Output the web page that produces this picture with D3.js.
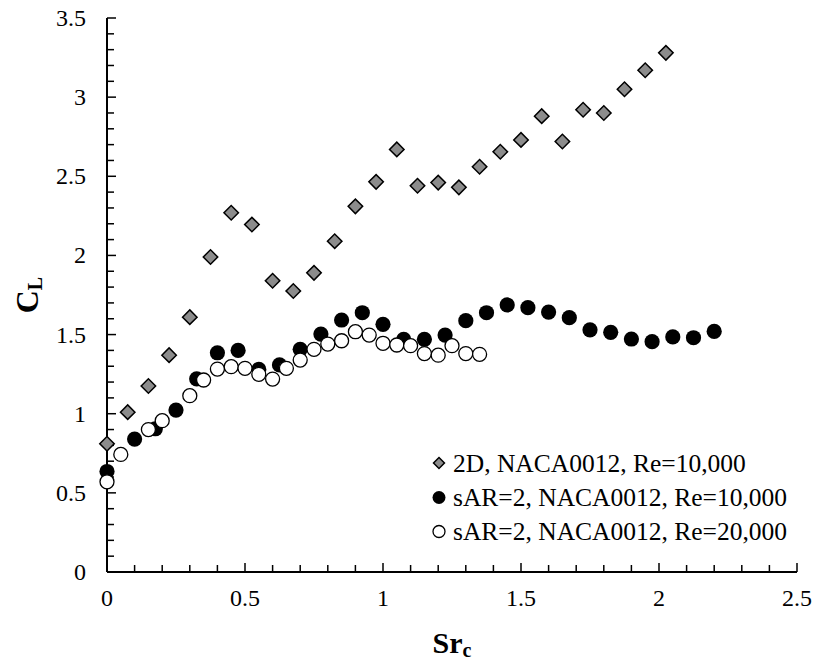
<!DOCTYPE html>
<html>
<head>
<meta charset="utf-8">
<script src="https://cdn.jsdelivr.net/npm/d3@7"></script>
</head>
<body style="margin:0">
<svg id="chart" width="819" height="664"></svg>
<script>
// Chart size (matches the window)
const width = 819;
const height = 664;
const serif = '"Liberation Serif"';

// touch the face once through a canvas so it is ready before the svg text is laid out
const ctx = document.createElement("canvas").getContext("2d");
ctx.font = `24px ${serif}`;
ctx.measureText("0.5 NACA0012 Sr");
ctx.font = `bold 30px ${serif}`;
ctx.measureText("Sr CL");

// 2D, NACA0012, Re=10,000
const sr2D = [0, 0.075, 0.15, 0.225, 0.3, 0.375, 0.45, 0.525, 0.6, 0.675, 0.75, 0.825, 0.9, 0.975,
              1.05, 1.125, 1.2, 1.275, 1.35, 1.425, 1.5, 1.575, 1.65, 1.725, 1.8, 1.875, 1.95, 2.025];
const cl2D = [0.81, 1.01, 1.175, 1.37, 1.61, 1.99, 2.27, 2.195, 1.84, 1.775, 1.89, 2.09, 2.31, 2.465,
              2.67, 2.44, 2.46, 2.43, 2.56, 2.655, 2.73, 2.88, 2.72, 2.92, 2.90, 3.05, 3.17, 3.28];

// sAR=2, NACA0012, Re=10,000
const srRe10k = [0, 0.1, 0.175, 0.25, 0.325, 0.4, 0.475, 0.55, 0.625, 0.7, 0.775, 0.85, 0.925, 1.0,
                 1.075, 1.15, 1.225, 1.3, 1.375, 1.45, 1.525, 1.6, 1.675, 1.75, 1.825, 1.9, 1.975,
                 2.05, 2.125, 2.2];
const clRe10k = [0.635, 0.84, 0.905, 1.023, 1.22, 1.385, 1.40, 1.28, 1.308, 1.407, 1.503, 1.592, 1.638, 1.565,
                 1.47, 1.47, 1.497, 1.588, 1.638, 1.687, 1.67, 1.642, 1.607, 1.53, 1.514, 1.472, 1.455,
                 1.485, 1.48, 1.52];

// sAR=2, NACA0012, Re=20,000
const srRe20k = [0, 0.05, 0.15, 0.2, 0.3, 0.35, 0.4, 0.45, 0.5, 0.55, 0.6, 0.65, 0.7, 0.75, 0.8,
                 0.85, 0.9, 0.95, 1.0, 1.05, 1.1, 1.15, 1.2, 1.25, 1.3, 1.35];
const clRe20k = [0.57, 0.743, 0.90, 0.956, 1.114, 1.213, 1.282, 1.297, 1.287, 1.249, 1.219, 1.287, 1.339,
                 1.407, 1.44, 1.461, 1.518, 1.497, 1.445, 1.434, 1.43, 1.38, 1.37, 1.43, 1.38, 1.375];

const legendLabels = ["2D, NACA0012, Re=10,000", "sAR=2, NACA0012, Re=10,000", "sAR=2, NACA0012, Re=20,000"];

const xMajor = [0, 0.5, 1, 1.5, 2, 2.5];
const yMajor = [0, 0.5, 1, 1.5, 2, 2.5, 3, 3.5];

const svg = d3.select("#chart");

// plot area edges
const x = d3.scaleLinear().domain([0, 2.5]).range([107, 797]);
const y = d3.scaleLinear().domain([0, 3.5]).range([572, 18]);

// minor ticks every 0.1
const xMinor = d3.range(0, 2.5001, 0.1);
const yMinor = d3.range(0, 3.5001, 0.1);
const isMajor = d => Math.abs(d * 2 - Math.round(d * 2)) < 1e-6;

svg.selectAll("line.xminor")
    .data(xMinor)
    .enter()
    .append("line")
    .attr("x1", d => x(d))
    .attr("x2", d => x(d))
    .attr("y1", y(0))
    .attr("y2", d => y(0) - (isMajor(d) ? 9 : 7))
    .attr("stroke", "#000")
    .attr("stroke-width", 1.5);

svg.selectAll("line.yminor")
    .data(yMinor)
    .enter()
    .append("line")
    .attr("y1", d => y(d))
    .attr("y2", d => y(d))
    .attr("x1", x(0))
    .attr("x2", d => x(0) + (isMajor(d) ? 9 : 7))
    .attr("stroke", "#000")
    .attr("stroke-width", 1.5);

// axis lines
svg.append("line")
    .attr("x1", x(0)).attr("x2", x(2.5))
    .attr("y1", y(0)).attr("y2", y(0))
    .attr("stroke", "#000").attr("stroke-width", 2);
svg.append("line")
    .attr("x1", x(0)).attr("x2", x(0))
    .attr("y1", y(0)).attr("y2", y(3.5))
    .attr("stroke", "#000").attr("stroke-width", 2);

// tick labels
svg.selectAll("text.xlab")
    .data(xMajor)
    .enter()
    .append("text")
    .attr("x", d => x(d))
    .attr("y", 606)
    .attr("text-anchor", "middle")
    .attr("font-size", 24)
    .style("font-family", serif)
    .text(d => d);

svg.selectAll("text.ylab")
    .data(yMajor)
    .enter()
    .append("text")
    .attr("x", 86)
    .attr("y", d => y(d) + 8)
    .attr("text-anchor", "end")
    .attr("font-size", 24)
    .style("font-family", serif)
    .text(d => d);

// axis titles
const xt = svg.append("text")
    .attr("x", x(1.25))
    .attr("y", 653)
    .attr("text-anchor", "middle")
    .attr("font-size", 30)
    .attr("font-weight", "bold")
    .style("font-family", serif);
xt.append("tspan").text("Sr");
xt.append("tspan").attr("font-size", 20).attr("dy", 4).text("c");

const yt = svg.append("text")
    .attr("transform", `translate(38,${y(1.75)}) rotate(-90)`)
    .attr("text-anchor", "middle")
    .attr("font-size", 32)
    .attr("font-weight", "bold")
    .style("font-family", serif);
yt.append("tspan").text("C");
yt.append("tspan").attr("font-size", 20).attr("dy", 4).text("L");

// data markers
const diamond = d3.symbol().type(d3.symbolSquare).size(105);

svg.selectAll("path.d2")
    .data(d3.zip(sr2D, cl2D))
    .enter()
    .append("path")
    .attr("class", "d2")
    .attr("d", diamond)
    .attr("transform", d => `translate(${x(d[0])},${y(d[1])}) rotate(45)`)
    .attr("fill", "#8c8c8c")
    .attr("stroke", "#000")
    .attr("stroke-width", 1.5);

svg.selectAll("circle.re10")
    .data(d3.zip(srRe10k, clRe10k))
    .enter()
    .append("circle")
    .attr("class", "re10")
    .attr("cx", d => x(d[0]))
    .attr("cy", d => y(d[1]))
    .attr("r", 7.6)
    .attr("fill", "#000");

svg.selectAll("circle.re20")
    .data(d3.zip(srRe20k, clRe20k))
    .enter()
    .append("circle")
    .attr("class", "re20")
    .attr("cx", d => x(d[0]))
    .attr("cy", d => y(d[1]))
    .attr("r", 7)
    .attr("fill", "#fff")
    .attr("stroke", "#000")
    .attr("stroke-width", 1.3);

// legend
const legendY = [463, 497.5, 531.5];

svg.append("path")
    .attr("d", d3.symbol().type(d3.symbolSquare).size(60))
    .attr("transform", `translate(439,${legendY[0]}) rotate(45)`)
    .attr("fill", "#8c8c8c").attr("stroke", "#000").attr("stroke-width", 1.5);
svg.append("circle")
    .attr("cx", 439).attr("cy", legendY[1]).attr("r", 6.5).attr("fill", "#000");
svg.append("circle")
    .attr("cx", 439).attr("cy", legendY[2]).attr("r", 6)
    .attr("fill", "#fff").attr("stroke", "#000").attr("stroke-width", 1.3);

svg.selectAll("text.leg")
    .data(legendLabels)
    .enter()
    .append("text")
    .attr("class", "leg")
    .attr("x", 453)
    .attr("y", (d, i) => legendY[i] + 8.5)
    .attr("font-size", 25.5)
    .style("font-family", serif)
    .text(d => d);
</script>
</body>
</html>
